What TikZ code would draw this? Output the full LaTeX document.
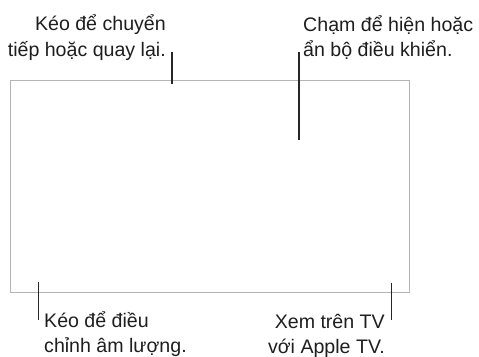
\documentclass[tikz,border=0pt]{standalone}
\usepackage{fontspec}
\setmainfont{Liberation Sans}
\definecolor{txt}{HTML}{1E1E1E}
\definecolor{framegray}{HTML}{B4B4B4}
\begin{document}
\begin{tikzpicture}[x=1pt,y=-1pt,
  lbl/.style={font=\fontsize{19.6}{25}\selectfont, inner sep=0pt, text=txt},
  leader/.style={line width=1.1pt, draw=black!85},
  frame/.style={draw=framegray, line width=1.4pt, inner sep=0pt}]
\useasboundingbox (0,0) rectangle (479,356);
\node (screen) [frame, minimum width=399pt, minimum height=212pt, anchor=north west] at (10,80) {};
\node (t1) [lbl, align=right, anchor=base east] at (166,56) {Kéo để chuyển\\tiếp hoặc quay lại.};
\node (t2) [lbl, align=left, anchor=base west] at (303,56.5) {Chạm để hiện hoặc\\ẩn bộ điều khiển.};
\node (t3) [lbl, align=left, anchor=base west] at (44,352) {Kéo để điều\\chỉnh âm lượng.};
\node (t4) [lbl, align=right, anchor=base east] at (385,353) {Xem trên TV\\với Apple TV.};
\coordinate (l1a) at (172,51.5);
\coordinate (l1b) at (172,84);
\coordinate (l2a) at (299,52);
\coordinate (l2b) at (299,140);
\coordinate (l3a) at (38.5,282);
\coordinate (l3b) at (38.5,320);
\coordinate (l4a) at (391.5,282.5);
\coordinate (l4b) at (391.5,319.5);
\draw[leader] (l1a) -- (l1b);
\draw[leader] (l2a) -- (l2b);
\draw[leader] (l3a) -- (l3b);
\draw[leader] (l4a) -- (l4b);
\end{tikzpicture}
\end{document}
